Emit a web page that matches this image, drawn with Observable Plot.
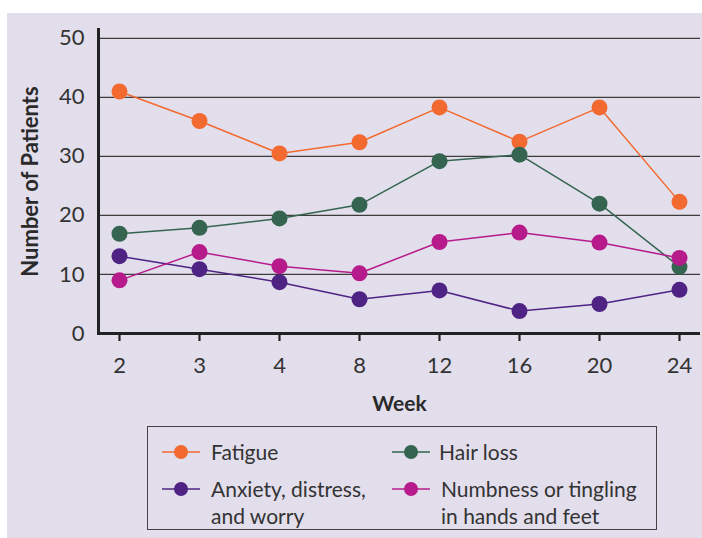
<!DOCTYPE html>
<html>
<head>
<meta charset="utf-8">
<script src="https://cdn.jsdelivr.net/npm/d3@7"></script>
<script src="https://cdn.jsdelivr.net/npm/@observablehq/plot@0.6"></script>
<style>
  html, body { margin: 0; padding: 0; background: #ffffff; }
  body { width: 702px; height: 538px; position: relative; overflow: hidden; font-family: Lato, "Open Sans", sans-serif; }
  #panel { position: absolute; left: 7px; top: 13px; width: 695px; height: 525px; background: #e2deec; }
  #chart { position: absolute; left: 0; top: 0; }
  #chart svg { background: transparent; }
  #chart [aria-label="y-axis label"], #chart [aria-label="x-axis label"] { font-weight: bold; fill: #2a2a2a; }
  #chart [aria-label="y-axis label"] { font-size: 22px; }
  #chart [aria-label="x-axis label"] { font-size: 21px; }
  #legend { position: absolute; left: 140px; top: 413px; width: 510px; height: 104px; border: 1.5px solid #444; box-sizing: border-box; }
  .item { position: absolute; font-size: 21px; color: #333; line-height: 27px; }
  .mk { position: absolute; }
</style>
</head>
<body>
<div id="panel">
  <div id="chart"></div>
  <div id="legend"></div>
</div>
<script>
const weeks = ["2", "3", "4", "8", "12", "16", "20", "24"];
const seriesNames = ["Fatigue", "Hair loss", "Anxiety, distress, and worry", "Numbness or tingling in hands and feet"];
const fatigue  = [41.0, 36.0, 30.5, 32.4, 38.3, 32.5, 38.3, 22.3];
const hairLoss = [16.9, 17.9, 19.5, 21.8, 29.2, 30.3, 22.0, 11.3];
const anxiety  = [13.1, 10.9, 8.7, 5.8, 7.3, 3.8, 5.0, 7.4];
const numbness = [9.0, 13.8, 11.4, 10.2, 15.5, 17.1, 15.4, 12.8];
const yTicks = [0, 10, 20, 30, 40, 50];
const colors = ["#f26a30", "#356550", "#4e2384", "#b71b8b"];
const legendLines = [["Fatigue"], ["Hair loss"], ["Anxiety, distress,", "and worry"], ["Numbness or tingling", "in hands and feet"]];

const valueSets = [fatigue, hairLoss, anxiety, numbness];
const data = [];
seriesNames.forEach((s, i) => weeks.forEach((w, j) => data.push({series: s, week: w, value: valueSets[i][j]})));
const colorOf = Object.fromEntries(seriesNames.map((s, i) => [s, colors[i]]));

const plot = Plot.plot({
  width: 695,
  height: 405,
  marginLeft: 91,
  marginRight: 2,
  marginTop: 16,
  marginBottom: 85,
  style: {fontFamily: "Lato, 'Open Sans', sans-serif", fontSize: "22px", color: "#333", background: "transparent"},
  x: {type: "point", domain: weeks, padding: 0.22},
  y: {domain: [0, 51.5]},
  marks: [
    Plot.ruleY(yTicks.filter(d => d > 0), {stroke: "#3c3c3c", strokeWidth: 1.2}),
    Plot.axisY({ticks: yTicks, tickSize: 0, tickPadding: 14, label: "Number of Patients", labelAnchor: "center", labelOffset: 76, labelArrow: "none", fill: "#333"}),
    Plot.axisX({tickSize: 8, tickPadding: 16, strokeWidth: 2.2, stroke: "#222", label: "Week", labelAnchor: "center", labelOffset: 77, labelArrow: "none", fill: "#333"}),
    Plot.ruleY([0], {stroke: "#222", strokeWidth: 3}),
    Plot.frame({anchor: "left", stroke: "#222", strokeWidth: 3}),
    Plot.line(data, {x: "week", y: "value", z: "series", stroke: d => colorOf[d.series], strokeWidth: 1.5}),
    Plot.dot(data, {x: "week", y: "value", r: 8, fill: d => colorOf[d.series], stroke: "none"})
  ]
});
document.getElementById("chart").appendChild(plot);

// Legend
const legend = document.getElementById("legend");
const pos = [
  {mx: 33, my: 25, tx: 63},
  {mx: 263, my: 25, tx: 291},
  {mx: 33, my: 62, tx: 63},
  {mx: 263, my: 62, tx: 293}
];
seriesNames.forEach((s, i) => {
  const p = pos[i];
  const svg = d3.create("svg").attr("class", "mk").attr("width", 42).attr("height", 20)
    .style("left", (p.mx - 21) + "px").style("top", (p.my - 10) + "px");
  svg.append("line").attr("x1", 2).attr("x2", 40).attr("y1", 10).attr("y2", 10)
    .attr("stroke", colors[i]).attr("stroke-width", 1.3);
  svg.append("circle").attr("cx", 21).attr("cy", 10).attr("r", 7).attr("fill", colors[i]);
  legend.appendChild(svg.node());
  const t = document.createElement("div");
  t.className = "item";
  t.style.left = p.tx + "px";
  t.style.top = (p.my - 14) + "px";
  t.innerHTML = legendLines[i].join("<br>");
  legend.appendChild(t);
});
</script>
</body>
</html>
